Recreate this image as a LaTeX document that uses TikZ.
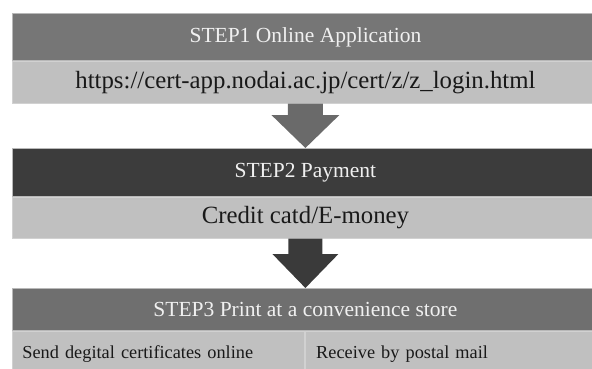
\documentclass[tikz,border=0pt]{standalone}
\usepackage{fontspec}
\setmainfont{Liberation Serif}
\usetikzlibrary{calc,positioning}
\definecolor{headone}{HTML}{767676}
\definecolor{headtwo}{HTML}{3C3C3C}
\definecolor{headthree}{HTML}{6F6F6F}
\definecolor{bodygray}{HTML}{C0C0C0}
\definecolor{arrowone}{HTML}{6A6A6A}
\definecolor{arrowtwo}{HTML}{3A3A3A}
\tikzset{
  stephead/.style={anchor=north west, minimum width=586pt, inner sep=0pt,
    text=white!94!black, font=\fontsize{21.5}{26}\selectfont,
    draw=white!72!black, line width=.8pt},
  stepbody/.style={minimum width=586pt, inner sep=0pt, fill=bodygray,
    text=black!90, font=\fontsize{24.8}{30}\selectfont,
    draw=white!82!black, line width=.8pt},
  stepcell/.style={stepbody, anchor=north west, minimum width=0pt, minimum height=46pt,
    font=\fontsize{18.3}{22}\selectfont, align=left, inner xsep=10pt},
}
\begin{document}
\begin{tikzpicture}[x=1pt,y=1pt]
  \useasboundingbox (0,0) rectangle (592,-369);
  \clip (0,0) rectangle (592,-369);
  % step 1
  \node [stephead, fill=headone, minimum height=47pt] (step1) at (12,-13) {STEP1 Online Application};
  \node [stepbody, below=0pt of step1, minimum height=42pt] (url) {https://cert-app.nodai.ac.jp/cert/z/z\_login.html};
  % step 2
  \node [stephead, fill=headtwo, minimum height=48pt] (step2) at (12,-148) {STEP2 Payment};
  \node [stepbody, below=0pt of step2, minimum height=41pt] (pay) {Credit catd/E-money};
  % step 3
  \node [stephead, fill=headthree, minimum height=42pt] (step3) at (12,-288) {STEP3 Print at a convenience store};
  \node [stepcell, text width=272pt] (online) at (step3.south west) {Send degital certificates online};
  \node [stepcell, text width=272pt, inner xsep=11pt] (mail) at (online.north east) {Receive by postal mail};
  % arrows
  \fill [arrowone] ($(url.south)+(-17.5,0)$) -- ($(url.south)+(17.5,0)$)
    -- ($(step2.north)+(17.5,33)$) -- ($(step2.north)+(34,33)$) -- (step2.north)
    -- ($(step2.north)+(-34,33)$) -- ($(step2.north)+(-17.5,33)$) -- cycle;
  \fill [arrowtwo] ($(pay.south)+(-17,0)$) -- ($(pay.south)+(17,0)$)
    -- ($(step3.north)+(17,34)$) -- ($(step3.north)+(33,34)$) -- (step3.north)
    -- ($(step3.north)+(-33,34)$) -- ($(step3.north)+(-17,34)$) -- cycle;
\end{tikzpicture}
\end{document}
